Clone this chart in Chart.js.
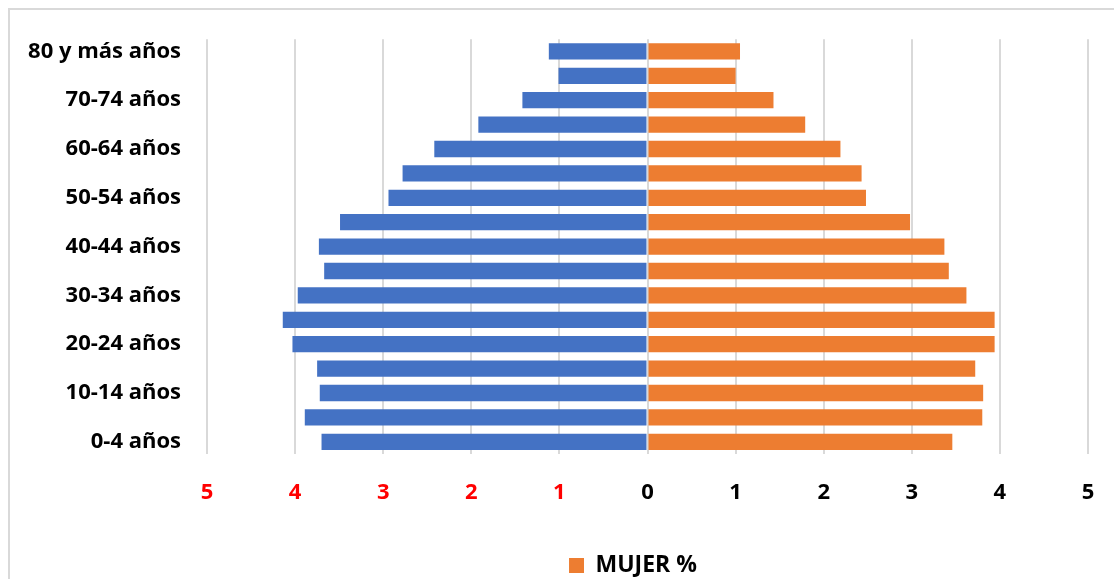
<!DOCTYPE html>
<html lang="es">
<head>
<meta charset="UTF-8">
<title>Pirámide de población</title>
<script src="https://cdn.jsdelivr.net/npm/chart.js"></script>
<style>
  body { margin: 0; background: #fff; }
  #frame { position: absolute; left: 8px; top: 8px; width: 1200px; height: 700px; border: 2px solid #d9d9d9; }
  #chart { position: absolute; left: 0; top: 0; }
</style>
</head>
<body>
<div id="frame"></div>
<canvas id="chart" width="1114" height="579"></canvas>
<script>
// age groups, bottom to top
const grupos = ['0-4 años', '5-9 años', '10-14 años', '15-19 años', '20-24 años', '25-29 años',
  '30-34 años', '35-39 años', '40-44 años', '45-49 años', '50-54 años', '55-59 años',
  '60-64 años', '65-69 años', '70-74 años', '75-79 años', '80 y más años'];

// percentages
const hombre = [3.70, 3.89, 3.72, 3.75, 4.03, 4.14, 3.97, 3.67, 3.73, 3.49, 2.94, 2.78,
  2.42, 1.92, 1.42, 1.01, 1.12];
const mujer = [3.46, 3.80, 3.81, 3.72, 3.94, 3.94, 3.62, 3.42, 3.37, 2.98, 2.48, 2.43,
  2.19, 1.79, 1.43, 1.00, 1.05];

const xTicks = [-5, -4, -3, -2, -1, 0, 1, 2, 3, 4, 5];

const font = { family: 'Open Sans', size: 22, weight: 'bold' };

// the legend sits right of centre in the original (the HOMBRE entry was removed)
const shiftLegend = {
  id: 'shiftLegend',
  afterLayout(chart) {
    chart.legend.left += 76;
    chart.legend.right += 76;
  }
};

new Chart(document.getElementById('chart'), {
  type: 'bar',
  data: {
    labels: grupos,
    datasets: [
      { label: 'HOMBRE %', data: hombre.map(v => -v), backgroundColor: '#4472C4' },
      { label: 'MUJER %', data: mujer, backgroundColor: '#ED7D31' }
    ]
  },
  options: {
    indexAxis: 'y',
    responsive: false,
    animation: false,
    layout: { padding: { top: 38, right: 0, left: 0, bottom: -8 } },
    datasets: { bar: { barPercentage: 0.67, categoryPercentage: 1 } },
    scales: {
      x: {
        stacked: true,
        min: -5, max: 5,
        afterBuildTicks: s => { s.ticks = xTicks.map(v => ({ value: v })); },
        afterFit: s => { s.height = 96; s.paddingRight = 26; },
        grid: { color: '#d9d9d9', lineWidth: 2, drawTicks: false },
        border: { display: false },
        ticks: {
          font: font,
          padding: 26,
          color: c => c.tick && c.tick.value < 0 ? '#ff0000' : '#000000',
          callback: v => Math.abs(v)
        }
      },
      y: {
        stacked: true,
        reverse: true,
        afterFit: s => { s.width = 207; },
        grid: { display: false, drawTicks: false },
        border: { display: false },
        ticks: {
          font: font,
          color: '#000000',
          padding: 26,
          autoSkip: false,
          callback: (v, i) => i % 2 === 0 ? grupos[i] : ''
        }
      }
    },
    plugins: {
      tooltip: { enabled: false },
      legend: {
        position: 'bottom',
        labels: {
          font: { family: 'Open Sans', size: 23, weight: 'bold' },
          color: '#000000',
          boxWidth: 15,
          boxHeight: 15,
          padding: 4,
          filter: item => item.datasetIndex === 1
        }
      }
    }
  },
  plugins: [shiftLegend]
});
</script>
</body>
</html>
